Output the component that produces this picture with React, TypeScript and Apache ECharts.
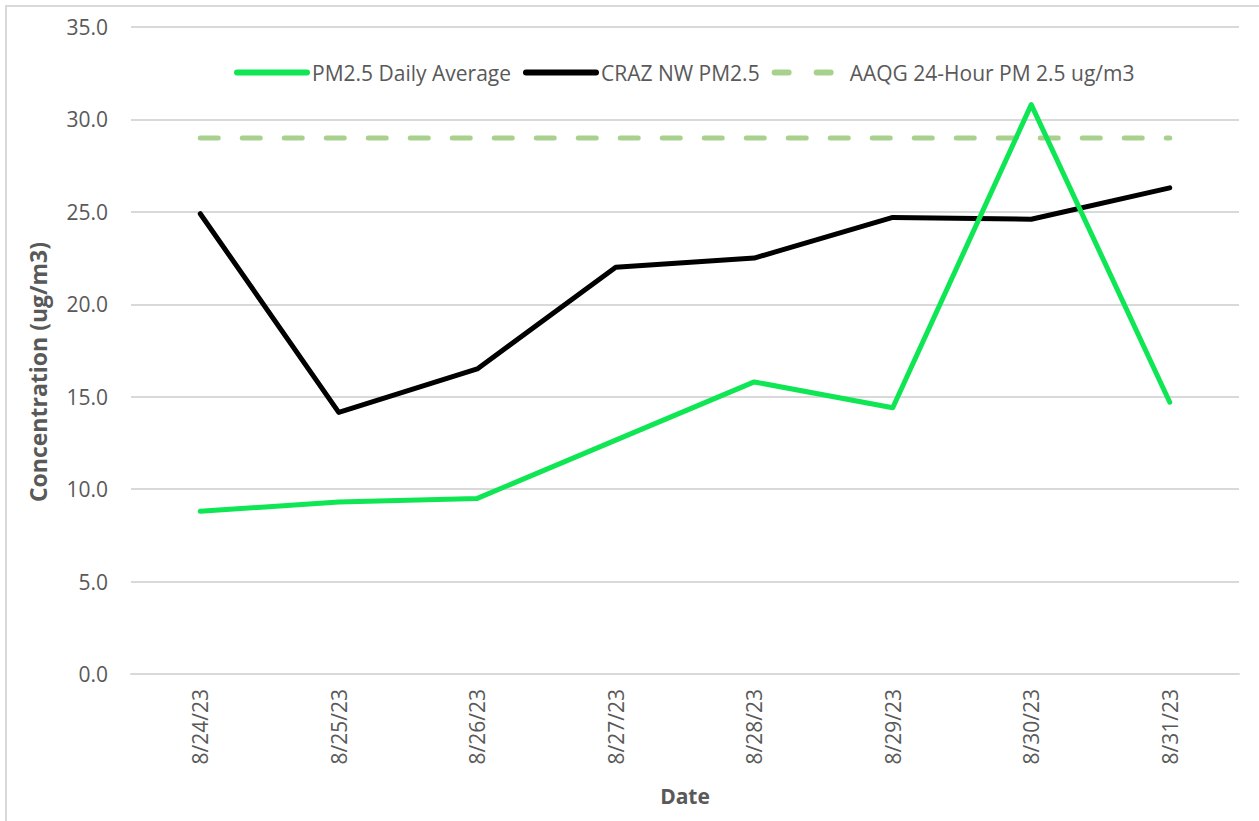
import React, { useEffect, useRef } from "react";
import * as echarts from "echarts";

const categories = ["8/24/23", "8/25/23", "8/26/23", "8/27/23", "8/28/23", "8/29/23", "8/30/23", "8/31/23"];
const pm25Daily = [8.8, 9.3, 9.5, 12.65, 15.8, 14.4, 30.8, 14.7];
const crazNW = [24.9, 14.15, 16.5, 22.0, 22.5, 24.7, 24.6, 26.3];
const aaqg = [29, 29, 29, 29, 29, 29, 29, 29];
const seriesNames = ["PM2.5 Daily Average", "CRAZ NW PM2.5", "AAQG 24-Hour PM 2.5 ug/m3"];
const yTitle = "Concentration (ug/m3)";
const xTitle = "Date";

const FONT = "'Open Sans', sans-serif";
const TEXT = "#595959";
const GREEN = "#0ee653";
const DASH_GREEN = "#a9d18e";

export default function App() {
  const ref = useRef<HTMLDivElement>(null);
  useEffect(() => {
    if (!ref.current) return;
    const chart = echarts.init(ref.current, undefined, { renderer: "svg" });
    chart.setOption({
      animation: false,
      backgroundColor: "#ffffff",
      textStyle: { fontFamily: FONT },
      graphic: [
        {
          type: "rect",
          shape: { x: 6, y: 6, width: 1270, height: 840 },
          style: { fill: "none", stroke: "#d9d9d9", lineWidth: 2 },
          silent: true,
        },
        {
          type: "text",
          x: 38,
          y: 372,
          rotation: Math.PI / 2,
          style: {
            text: yTitle,
            fill: TEXT,
            font: `bold 23px ${FONT}`,
            align: "center",
            verticalAlign: "middle",
          },
          silent: true,
        },
      ],
      legend: {
        top: 57,
        left: 229,
        itemWidth: 70,
        itemHeight: 14,
        itemGap: 12,
        itemStyle: { color: "transparent", borderWidth: 0, opacity: 0 },
        lineStyle: { width: 6 },
        textStyle: { color: TEXT, fontSize: 21, fontFamily: FONT, padding: [0, 0, 0, 0] },
        data: [
          { name: seriesNames[0] },
          { name: seriesNames[1] },
          { name: seriesNames[2], lineStyle: { width: 6, type: [14, 28], cap: "round" } },
        ],
      },
      grid: { left: 131, right: 20, top: 27, bottom: 147, containLabel: false },
      xAxis: {
        type: "category",
        data: categories,
        boundaryGap: true,
        name: xTitle,
        nameLocation: "middle",
        nameGap: 111,
        nameTextStyle: { color: TEXT, fontSize: 21, fontWeight: "bold", fontFamily: FONT },
        axisLine: { show: true, lineStyle: { color: "#d9d9d9", width: 2 } },
        axisTick: { show: false },
        axisLabel: { rotate: 90, color: TEXT, fontSize: 21, margin: 15, fontFamily: FONT },
      },
      yAxis: {
        type: "value",
        min: 0,
        max: 35,
        interval: 5,
        axisLine: { show: false },
        axisTick: { show: false },
        axisLabel: {
          color: TEXT,
          fontSize: 21,
          margin: 23,
          fontFamily: FONT,
          formatter: (v: number) => v.toFixed(1),
        },
        splitLine: { lineStyle: { color: "#d9d9d9", width: 2 } },
      },
      series: [
        {
          name: seriesNames[0],
          type: "line",
          data: pm25Daily,
          symbol: "none",
          lineStyle: { color: GREEN, width: 5, cap: "round", join: "round" },
          itemStyle: { color: GREEN },
          z: 3,
        },
        {
          name: seriesNames[1],
          type: "line",
          data: crazNW,
          symbol: "none",
          lineStyle: { color: "#000000", width: 5, cap: "round", join: "round" },
          itemStyle: { color: "#000000" },
          z: 2,
        },
        {
          name: seriesNames[2],
          type: "line",
          data: aaqg,
          symbol: "none",
          lineStyle: { color: DASH_GREEN, width: 5, type: [18, 24], cap: "round" },
          itemStyle: { color: DASH_GREEN },
          z: 1,
        },
      ],
    });
    return () => chart.dispose();
  }, []);
  return (
    <div
      ref={ref}
      style={{ position: "fixed", left: 0, top: 0, width: 1259, height: 821 }}
    />
  );
}
